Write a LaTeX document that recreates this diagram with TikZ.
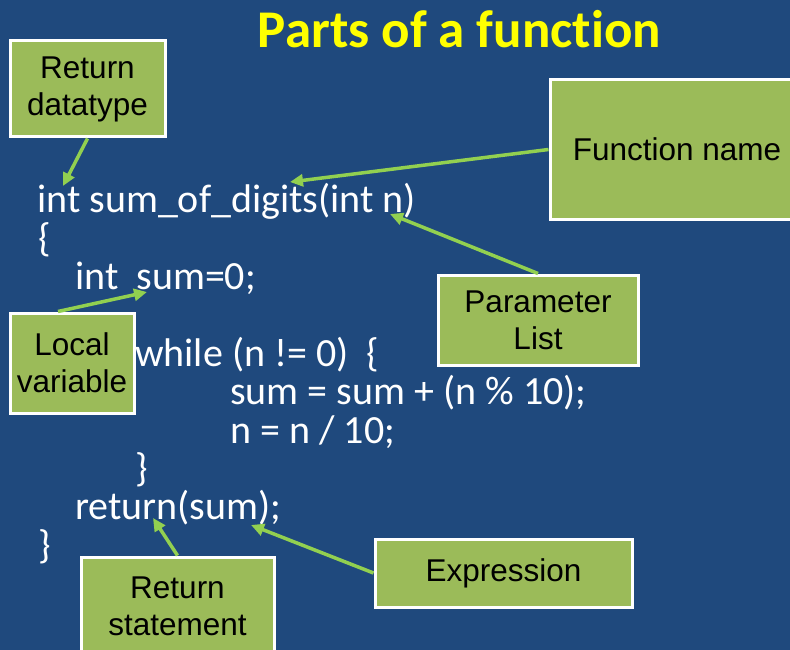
\documentclass[tikz,border=0pt]{standalone}
\usepackage{fontspec}
\setmainfont{Liberation Sans}
\newfontfamily\codefont[Ligatures=NoCommon]{Carlito}
\usetikzlibrary{arrows.meta}
\definecolor{bg}{HTML}{1F497D}
\definecolor{boxgreen}{HTML}{9BBB59}
\definecolor{arrowgreen}{HTML}{92D050}
\definecolor{titleyellow}{HTML}{FFFF00}
\begin{document}
\begin{tikzpicture}[x=1pt,y=-1pt,
  lbl/.style={draw=white, line width=3pt, fill=boxgreen, align=center,
    font=\fontsize{31.5}{37}\selectfont, text=black, inner sep=0pt},
  code/.style={anchor=base west, inner sep=0pt, text=white,
    font=\codefont\fontsize{40}{48}\selectfont},
  pointer/.style={draw=arrowgreen, line width=3.5pt,
    -{Triangle[length=13pt,width=12pt]}}
]
\fill[bg] (0,0) rectangle (790,650);
\useasboundingbox (0,0) rectangle (790,650);
\clip (0,0) rectangle (790,650);

% title
\node[anchor=base, inner sep=0pt, text=titleyellow,
  font=\codefont\bfseries\fontsize{53}{60}\selectfont] (title) at (459.5,48) {Parts of a function};

% code
\node[code] (c1) at (37,212) {int sum\_of\_digits(int n)};
\node[code] (c2) at (38,251) {\{};
\node[code] (c3) at (75,289) {int~~sum=0;};
\node[code] (c4) at (135,366) {while (n != 0)~~\{};
\node[code] (c5) at (230,404) {sum = sum + (n \% 10);};
\node[code] (c6) at (230,443) {n = n / 10;};
\node[code] (c7) at (135,481) {\}};
\node[code] (c8) at (75,519) {return(sum);};
\node[code] (c9) at (38,558) {\}};

% label boxes
\node[lbl, minimum width=155pt, minimum height=96pt] (rd) at (87.5,89) {Return\\datatype};
\node[lbl, minimum width=254pt, minimum height=139pt] (fn) at (677,149.5) {Function name};
\node[lbl, minimum width=200pt, minimum height=90pt] (pl) at (538,320) {Parameter\\List};
\node[lbl, minimum width=124pt, minimum height=100pt] (lv) at (72,363) {Local\\variable};
\node[lbl, minimum width=193pt, minimum height=99pt] (rs) at (177.5,606.5) {Return\\statement};
\node[lbl, minimum width=257pt, minimum height=68pt] (ex) at (503.5,573) {Expression};

% arrow targets
\coordinate (trd) at (63,186);
\coordinate (tfn) at (290,182);
\coordinate (tpl) at (390,214);
\coordinate (tlv) at (147,292);
\coordinate (trs) at (153,518);
\coordinate (tex) at (251,525);

% arrows
\draw[pointer] (rd.south) -- (trd);
\draw[pointer] (fn.west) -- (tfn);
\draw[pointer] (pl.north) -- (tpl);
\draw[pointer] ([xshift=-14pt]lv.north) -- (tlv);
\draw[pointer] (rs.north) -- (trs);
\draw[pointer] (ex.west) -- (tex);
\end{tikzpicture}
\end{document}
